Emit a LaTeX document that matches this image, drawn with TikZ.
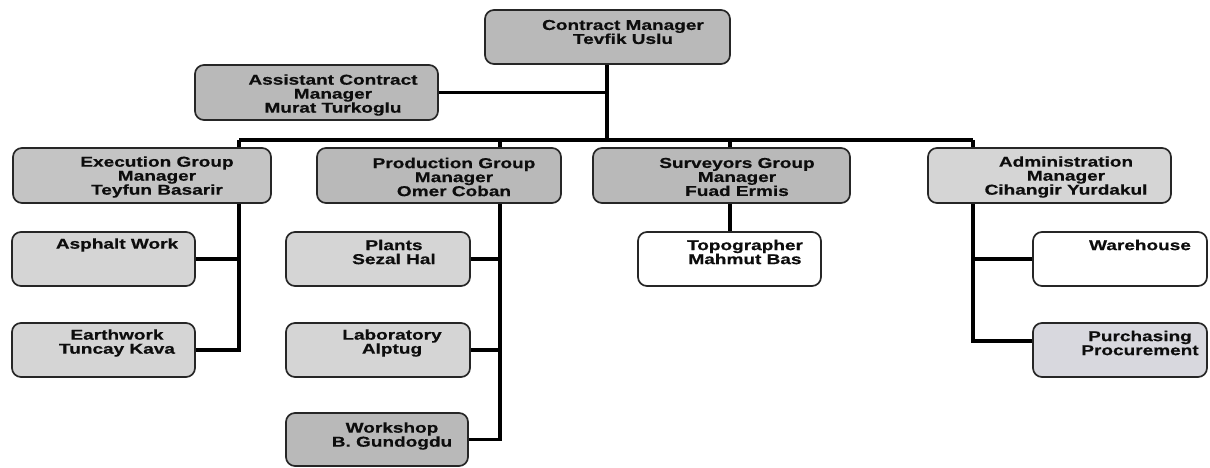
\documentclass[tikz,border=0pt]{standalone}
\usepackage{fontspec}
\newfontfamily\cfont{Liberation Sans}[FakeStretch=1.33, BoldFeatures={FakeBold=0.6}]
\usetikzlibrary{backgrounds,calc}
\definecolor{gDark}{HTML}{B9B9B9}
\definecolor{gMid}{HTML}{C4C4C4}
\definecolor{gLight}{HTML}{D5D5D5}
\definecolor{gBlue}{HTML}{D8D8DE}
\begin{document}
\begin{tikzpicture}[x=1pt,y=-1pt,
  box/.style={draw=black!85, line width=1.7pt, rounded corners=9pt, inner sep=0pt},
  txt/.style={font=\cfont\bfseries\fontsize{14.3}{14}\selectfont, align=center, text=black!95, inner sep=0pt},
  conn/.style={line width=3.4pt, black}]
\useasboundingbox (0,0) rectangle (1210,468);
% boxes
\node[box, fill=gDark,  minimum width=245pt, minimum height=54pt] (cm) at (607.5,37) {};
\node[box, fill=gDark,  minimum width=243pt, minimum height=55pt] (ac) at (316.5,92.5) {};
\node[box, fill=gMid,   minimum width=258pt, minimum height=55pt] (ex) at (142,175.5) {};
\node[box, fill=gDark,  minimum width=244pt, minimum height=55pt] (pr) at (439,175.5) {};
\node[box, fill=gDark,  minimum width=257pt, minimum height=55pt] (sv) at (721.5,175.5) {};
\node[box, fill=gLight, minimum width=243pt, minimum height=55pt] (ad) at (1049.5,175.5) {};
\node[box, fill=gLight, minimum width=183pt, minimum height=54pt] (aw) at (103.5,259) {};
\node[box, fill=gLight, minimum width=183pt, minimum height=54pt] (ew) at (103.5,350) {};
\node[box, fill=gLight, minimum width=184pt, minimum height=54pt] (pl) at (378,259) {};
\node[box, fill=gLight, minimum width=184pt, minimum height=54pt] (lb) at (378,350) {};
\node[box, fill=gDark,  minimum width=182pt, minimum height=53pt] (ws) at (377,439.5) {};
\node[box, fill=white,  minimum width=183pt, minimum height=54pt] (tp) at (729.5,259) {};
\node[box, fill=white,  minimum width=174pt, minimum height=54pt] (wh) at (1120,259) {};
\node[box, fill=gBlue,  minimum width=174pt, minimum height=54pt] (pu) at (1120,350) {};
% texts
\node[txt] (tcm) at (623,32) {Contract Manager\\Tevfik Uslu};
\node[txt] (tac) at (333,95) {Assistant Contract\\Manager\\Murat Turkoglu};
\node[txt] (tex) at (157,177) {Execution Group\\Manager\\Teyfun Basarir};
\node[txt] (tpr) at (454,177) {Production Group\\Manager\\Omer Coban};
\node[txt] (tsv) at (737,177) {Surveyors Group\\Manager\\Fuad Ermis};
\node[txt] (tad) at (1066,177) {Administration\\Manager\\Cihangir Yurdakul};
\node[txt] (taw) at (117,245) {Asphalt Work};
\node[txt] (tew) at (117,343) {Earthwork\\Tuncay Kava};
\node[txt] (tpl) at (394,252) {Plants\\Sezal Hal};
\node[txt] (tlb) at (392,343) {Laboratory\\Alptug};
\node[txt] (tws) at (392,436) {Workshop\\B. Gundogdu};
\node[txt] (ttp) at (745,252) {Topographer\\Mahmut Bas};
\node[txt] (twh) at (1140,245) {Warehouse};
\node[txt] (tpu) at (1140,343) {Purchasing\\Procurement};
% connectors
\coordinate (top) at (607,140);
\coordinate (b1) at (239,140);
\coordinate (b2) at (500,140);
\coordinate (b3) at (730,140);
\coordinate (b4) at (973,140);
\begin{pgfonlayer}{background}
\fill[white] (0,0) rectangle (1210,468);
\draw[conn] (cm.south -| top) -- (top);
\draw[conn] (ac.east) -- (ac.east -| top);
\draw[conn] (b1) -- (b4);
\draw[conn] (b1) -- (b1 |- ew.east) -- (ew.east);
\draw[conn] (b1 |- aw.east) -- (aw.east);
\draw[conn] (b2) -- (b2 |- ws.east) -- (ws.east);
\draw[conn] (b2 |- pl.east) -- (pl.east);
\draw[conn] (b2 |- lb.east) -- (lb.east);
\draw[conn] (b3) -- (b3 |- tp.north);
\draw[conn] (b4) -- ($(b4 |- pu.west)+(0,-9)$) -- ([yshift=9pt]pu.west);
\draw[conn] (b4 |- wh.west) -- (wh.west);
\end{pgfonlayer}
\end{tikzpicture}
\end{document}
